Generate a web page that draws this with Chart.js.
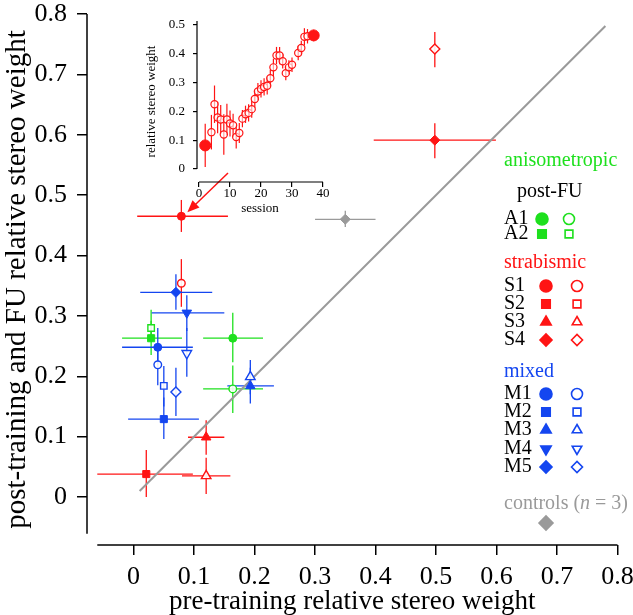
<!DOCTYPE html>
<html>
<head>
<meta charset="utf-8">
<script src="https://cdn.jsdelivr.net/npm/chart.js@4.4.0/dist/chart.umd.min.js"></script>
<style>
  html, body { margin: 0; padding: 0; background: #fff; }
  #wrap { position: relative; width: 633px; height: 615px; }
  #main { position: absolute; left: 0; top: 0; }
  #inset { position: absolute; left: 128px; top: 6px; }
</style>
</head>
<body>
<div id="wrap">
  <canvas id="main" width="633" height="615"></canvas>
  <canvas id="inset" width="205" height="216"></canvas>
</div>
<script>
// main panel: pre-training vs post-training (filled) and follow-up (open)
const subjects = ['A1', 'A2', 'S1', 'S2', 'S3', 'S4', 'M1', 'M2', 'M3', 'M4', 'M5'];
const groups   = ['aniso', 'aniso', 'strab', 'strab', 'strab', 'strab', 'mixed', 'mixed', 'mixed', 'mixed', 'mixed'];
const markers  = ['circle', 'rect', 'circle', 'rect', 'triangle', 'rectRot', 'circle', 'rect', 'triangle', 'triangleDown', 'rectRot'];

const preX   = [0.164, 0.029, 0.079, 0.021, 0.120, 0.498, 0.040, 0.050, 0.193, 0.088, 0.070];
const preXLo = [0.115, -0.019, 0.006, -0.060, 0.090, 0.397, -0.019, -0.009, 0.155, 0.030, 0.011];
const preXHi = [0.214, 0.080, 0.156, 0.098, 0.150, 0.599, 0.098, 0.108, 0.232, 0.150, 0.130];

const postY   = [0.263, 0.263, 0.465, 0.038, 0.099, 0.591, 0.248, 0.129, 0.184, 0.305, 0.339];
const postYLo = [0.223, 0.235, 0.439, 0.000, 0.070, 0.561, 0.220, 0.096, 0.155, 0.275, 0.310];
const postYHi = [0.305, 0.310, 0.492, 0.078, 0.127, 0.619, 0.280, 0.165, 0.214, 0.334, 0.369];

const fuY   = [0.179, 0.280, 0.354, null, 0.035, 0.742, 0.219, 0.184, 0.199, 0.238, 0.174];
const fuYLo = [0.139, 0.268, 0.315, null, 0.005, 0.712, 0.185, 0.150, 0.170, 0.199, 0.134];
const fuYHi = [0.218, 0.292, 0.394, null, 0.065, 0.770, 0.250, 0.217, 0.227, 0.280, 0.214];
// horizontal bars drawn at the follow-up point (only A1 and S3 have them)
const fuXLo = [0.115, null, null, null, 0.080, null, null, null, null, null, null];
const fuXHi = [0.214, null, null, null, 0.160, null, null, null, null, null, null];

// controls: [low, mean, high]
const controlPre  = [0.300, 0.350, 0.400];
const controlPost = [0.447, 0.460, 0.474];

const unityLine = [0.01, 0.78];
const xTicks = [0, 0.1, 0.2, 0.3, 0.4, 0.5, 0.6, 0.7, 0.8];
const yTicks = [0, 0.1, 0.2, 0.3, 0.4, 0.5, 0.6, 0.7, 0.8];

// inset: S1 over training sessions
const sessions = [2, 4, 5, 6, 7, 8, 9, 10, 11, 12, 13, 14, 15, 16, 17, 18, 19, 20, 21, 22, 23, 24, 25, 26, 27, 28, 29, 30, 32, 33, 34, 35, 37];
const sessionWeight = [0.082, 0.128, 0.225, 0.179, 0.172, 0.120, 0.172, 0.158, 0.152, 0.111, 0.125, 0.175, 0.190, 0.195, 0.208, 0.243, 0.269, 0.278, 0.285, 0.289, 0.315, 0.353, 0.394, 0.394, 0.374, 0.333, 0.353, 0.362, 0.403, 0.420, 0.459, 0.461, 0.464];
const sessionErr = [0.075, 0.06, 0.065, 0.055, 0.05, 0.07, 0.055, 0.045, 0.04, 0.04, 0.035, 0.03, 0.03, 0.03, 0.03, 0.03, 0.03, 0.03, 0.03, 0.03, 0.03, 0.03, 0.03, 0.03, 0.025, 0.025, 0.025, 0.025, 0.025, 0.025, 0.03, 0.025, 0.02];
const insetXTicks = [0, 10, 20, 30, 40];
const insetYTicks = [0, 0.1, 0.2, 0.3, 0.4, 0.5];

const serif = '"Liberation Serif", "DejaVu Serif", serif';
const fam = 'Liberation Serif';
Chart.defaults.font.family = fam;
Chart.defaults.color = '#000';

const groupColor = { aniso: '#1ee01e', strab: '#ff1414', mixed: '#1446f0' };
const gray = '#9a9a9a';
const filledRadius = { circle: 4, rect: 5, triangle: 5.5, triangleDown: 5.5, rectRot: 5 };
const openRadius = { circle: 3.8, rect: 4.6, triangle: 5.5, triangleDown: 5.5, rectRot: 5 };
const styleOf = m => (m === 'triangleDown' ? 'triangle' : m);
const rotOf = m => (m === 'triangleDown' ? 180 : 0);
const fmt = v => (v === 0 ? '0' : v.toFixed(1));

// keep the plot area exactly where layout padding + afterFit put it
const noOverflow = s => { s.paddingTop = 0; s.paddingBottom = 0; s.paddingLeft = 0; s.paddingRight = 0; };

function seg(ctx, x1, y1, x2, y2) {
  ctx.beginPath();
  ctx.moveTo(x1, y1);
  ctx.lineTo(x2, y2);
  ctx.stroke();
}

const mainErrorBars = {
  id: 'mainErrorBars',
  beforeDatasetsDraw(chart) {
    const { ctx, scales: { x, y } } = chart;
    ctx.save();
    ctx.lineWidth = 1.3;
    subjects.forEach((s, i) => {
      ctx.strokeStyle = groupColor[groups[i]];
      const px = x.getPixelForValue(preX[i]);
      seg(ctx, x.getPixelForValue(preXLo[i]), y.getPixelForValue(postY[i]), x.getPixelForValue(preXHi[i]), y.getPixelForValue(postY[i]));
      seg(ctx, px, y.getPixelForValue(postYLo[i]), px, y.getPixelForValue(postYHi[i]));
      if (fuY[i] !== null) {
        seg(ctx, px, y.getPixelForValue(fuYLo[i]), px, y.getPixelForValue(fuYHi[i]));
        if (fuXLo[i] !== null) {
          seg(ctx, x.getPixelForValue(fuXLo[i]), y.getPixelForValue(fuY[i]), x.getPixelForValue(fuXHi[i]), y.getPixelForValue(fuY[i]));
        }
      }
    });
    ctx.strokeStyle = gray;
    seg(ctx, x.getPixelForValue(controlPre[0]), y.getPixelForValue(controlPost[1]), x.getPixelForValue(controlPre[2]), y.getPixelForValue(controlPost[1]));
    seg(ctx, x.getPixelForValue(controlPre[1]), y.getPixelForValue(controlPost[0]), x.getPixelForValue(controlPre[1]), y.getPixelForValue(controlPost[2]));
    ctx.restore();
  }
};

// detached axis lines, like the original figure
const mainAxes = {
  id: 'mainAxes',
  afterDraw(chart) {
    const { ctx, chartArea, scales: { x, y } } = chart;
    ctx.save();
    ctx.strokeStyle = '#000';
    ctx.lineWidth = 1.5;
    seg(ctx, chartArea.left, y.getPixelForValue(-0.061), chartArea.left, y.getPixelForValue(0.8));
    seg(ctx, x.getPixelForValue(-0.06), chartArea.bottom, x.getPixelForValue(0.8), chartArea.bottom);
    ctx.restore();
  }
};

function drawMarker(ctx, m, x, y, r, color, filled) {
  ctx.save();
  ctx.fillStyle = filled ? color : '#fff';
  ctx.strokeStyle = color;
  ctx.lineWidth = 1.6;
  Chart.helpers.drawPoint(ctx, { pointStyle: styleOf(m), radius: r, rotation: rotOf(m), borderWidth: 1.6 }, x, y);
  ctx.restore();
}

const groupLegend = {
  id: 'groupLegend',
  afterDraw(chart) {
    const { ctx } = chart;
    ctx.save();
    ctx.textBaseline = 'middle';
    ctx.textAlign = 'left';
    ctx.font = '20px ' + serif;
    const heads = [
      { text: 'anisometropic', y: 161, color: groupColor.aniso },
      { text: 'strabismic', y: 263, color: groupColor.strab },
      { text: 'mixed', y: 372, color: groupColor.mixed }
    ];
    heads.forEach(h => { ctx.fillStyle = h.color; ctx.fillText(h.text, 504, h.y); });
    ctx.fillStyle = '#000';
    ctx.fillText('post-FU', 517, 192);

    const rowY = [219, 234, 286, 304, 322, 340, 394, 412, 430, 449, 467];
    subjects.forEach((s, i) => {
      const c = groupColor[groups[i]];
      const fx = groups[i] === 'aniso' ? 542 : 546;
      const ox = groups[i] === 'aniso' ? 569 : 577;
      ctx.fillStyle = '#000';
      ctx.fillText(s, 504, rowY[i]);
      drawMarker(ctx, markers[i], fx, rowY[i], 6, c, true);
      drawMarker(ctx, markers[i], ox, rowY[i], 5.5, c, false);
    });

    ctx.fillStyle = gray;
    let tx = 504;
    const parts = [['controls (', ''], ['n', 'italic '], [' = 3)', '']];
    parts.forEach(([t, st]) => {
      ctx.font = st + '20px ' + serif;
      ctx.fillText(t, tx, 504);
      tx += ctx.measureText(t).width;
    });
    drawMarker(ctx, 'rectRot', 546, 523, 7, gray, true);

    // arrow from the inset down to S1's pre-training point
    const p = chart.getDatasetMeta(1).data[2];
    const ex = p.x + 6, ey = p.y - 4, sx = 228, sy = 173;
    const ang = Math.atan2(ey - sy, ex - sx);
    ctx.strokeStyle = groupColor.strab;
    ctx.fillStyle = groupColor.strab;
    ctx.lineWidth = 1.5;
    seg(ctx, sx, sy, ex - 8 * Math.cos(ang), ey - 8 * Math.sin(ang));
    ctx.beginPath();
    ctx.moveTo(ex, ey);
    ctx.lineTo(ex - 12 * Math.cos(ang) + 5 * Math.sin(ang), ey - 12 * Math.sin(ang) - 5 * Math.cos(ang));
    ctx.lineTo(ex - 12 * Math.cos(ang) - 5 * Math.sin(ang), ey - 12 * Math.sin(ang) + 5 * Math.cos(ang));
    ctx.closePath();
    ctx.fill();
    ctx.restore();
  }
};

const fuPoints = subjects.map((s, i) => ({ x: preX[i], y: fuY[i] }));
const postPoints = subjects.map((s, i) => ({ x: preX[i], y: postY[i] }));

new Chart(document.getElementById('main'), {
  type: 'scatter',
  data: {
    datasets: [
      {
        label: 'controls',
        data: [{ x: controlPre[1], y: controlPost[1] }],
        pointStyle: 'rectRot', pointRadius: 5, backgroundColor: gray, borderColor: gray
      },
      {
        label: 'post-training',
        data: postPoints,
        pointStyle: markers.map(styleOf),
        rotation: markers.map(rotOf),
        pointRadius: markers.map(m => filledRadius[m]),
        backgroundColor: groups.map(g => groupColor[g]),
        borderColor: groups.map(g => groupColor[g]),
        borderWidth: 1
      },
      {
        label: 'follow-up',
        data: fuPoints,
        pointStyle: markers.map(styleOf),
        rotation: markers.map(rotOf),
        pointRadius: markers.map(m => openRadius[m]),
        backgroundColor: 'rgba(255,255,255,0.9)',
        borderColor: groups.map(g => groupColor[g]),
        borderWidth: 1.4
      },
      {
        type: 'line',
        label: 'unity',
        data: unityLine.map(v => ({ x: v, y: v })),
        borderColor: gray, borderWidth: 2, pointRadius: 0
      }
    ]
  },
  options: {
    responsive: false,
    animation: false,
    layout: { padding: { top: 14, right: 15.5, left: 0, bottom: 0 } },
    plugins: { legend: { display: false }, tooltip: { enabled: false } },
    scales: {
      x: {
        type: 'linear', min: -0.077, max: 0.8,
        afterBuildTicks: s => { s.ticks = xTicks.map(v => ({ value: v })); },
        afterFit: s => { s.height = 70; noOverflow(s); },
        border: { display: false },
        grid: { drawOnChartArea: false, tickLength: 10, color: '#000', lineWidth: 1.5 },
        ticks: { font: { family: fam, size: 26, lineHeight: 1 }, padding: 9, maxRotation: 0, callback: fmt },
        title: { display: true, text: 'pre-training relative stereo weight', font: { family: fam, size: 27 }, padding: { top: 0, bottom: -3 } }
      },
      y: {
        type: 'linear', min: -0.0795, max: 0.8,
        afterBuildTicks: s => { s.ticks = yTicks.map(v => ({ value: v })); },
        afterFit: s => { s.width = 87; noOverflow(s); },
        border: { display: false },
        grid: { drawOnChartArea: false, tickLength: 10, color: '#000', lineWidth: 1.5 },
        ticks: { font: { family: fam, size: 26, lineHeight: 1 }, padding: 10, callback: fmt },
        title: { display: true, text: 'post-training and FU relative stereo weight', font: { family: fam, size: 29 }, padding: { top: 0, bottom: 0 } }
      }
    }
  },
  plugins: [mainErrorBars, mainAxes, groupLegend]
});

// ---------- inset ----------
const insetBars = {
  id: 'insetBars',
  beforeDatasetsDraw(chart) {
    const { ctx, scales: { x, y } } = chart;
    ctx.save();
    ctx.strokeStyle = groupColor.strab;
    ctx.lineWidth = 1.2;
    sessions.forEach((s, i) => {
      const px = x.getPixelForValue(s);
      seg(ctx, px, y.getPixelForValue(sessionWeight[i] - sessionErr[i]), px, y.getPixelForValue(sessionWeight[i] + sessionErr[i]));
    });
    ctx.restore();
  },
  afterDraw(chart) {
    const { ctx, chartArea, scales: { x, y } } = chart;
    ctx.save();
    ctx.strokeStyle = '#000';
    ctx.lineWidth = 1.2;
    seg(ctx, chartArea.left, y.getPixelForValue(0), chartArea.left, chartArea.top);
    seg(ctx, x.getPixelForValue(0), chartArea.bottom, x.getPixelForValue(40), chartArea.bottom);
    ctx.restore();
  }
};

const isEnd = i => i === 0 || i === sessions.length - 1;

new Chart(document.getElementById('inset'), {
  type: 'scatter',
  data: {
    datasets: [
      {
        data: sessions.map((s, i) => ({ x: s, y: sessionWeight[i] })).filter((p, i) => isEnd(i)),
        pointRadius: 5.5, backgroundColor: groupColor.strab, borderColor: groupColor.strab
      },
      {
        data: sessions.map((s, i) => ({ x: s, y: sessionWeight[i] })).filter((p, i) => !isEnd(i)),
        pointRadius: 3.6, backgroundColor: 'rgba(255,255,255,0.6)', borderColor: groupColor.strab, borderWidth: 1.2
      }
    ]
  },
  options: {
    responsive: false,
    animation: false,
    layout: { padding: { top: 15, right: 10, left: 0, bottom: 0 } },
    plugins: { legend: { display: false }, tooltip: { enabled: false } },
    scales: {
      x: {
        type: 'linear', min: -0.65, max: 40,
        afterBuildTicks: s => { s.ticks = insetXTicks.map(v => ({ value: v })); },
        afterFit: s => { s.height = 40; noOverflow(s); },
        border: { display: false },
        grid: { drawOnChartArea: false, tickLength: 5, color: '#000', lineWidth: 1.2 },
        ticks: { font: { family: fam, size: 13, lineHeight: 1 }, padding: 0, maxRotation: 0 },
        title: { display: true, text: 'session', font: { family: fam, size: 13 }, padding: { top: 0, bottom: 6 } }
      },
      y: {
        type: 'linear', min: -0.045, max: 0.514,
        afterBuildTicks: s => { s.ticks = insetYTicks.map(v => ({ value: v })); },
        afterFit: s => { s.width = 69; noOverflow(s); },
        border: { display: false },
        grid: { drawOnChartArea: false, tickLength: 4, color: '#000', lineWidth: 1.2 },
        ticks: { font: { family: fam, size: 13, lineHeight: 1 }, padding: 8, callback: fmt },
        title: { display: true, text: 'relative stereo weight', font: { family: fam, size: 13 }, padding: { top: 16, bottom: 0 } }
      }
    }
  },
  plugins: [insetBars]
});
</script>
</body>
</html>
